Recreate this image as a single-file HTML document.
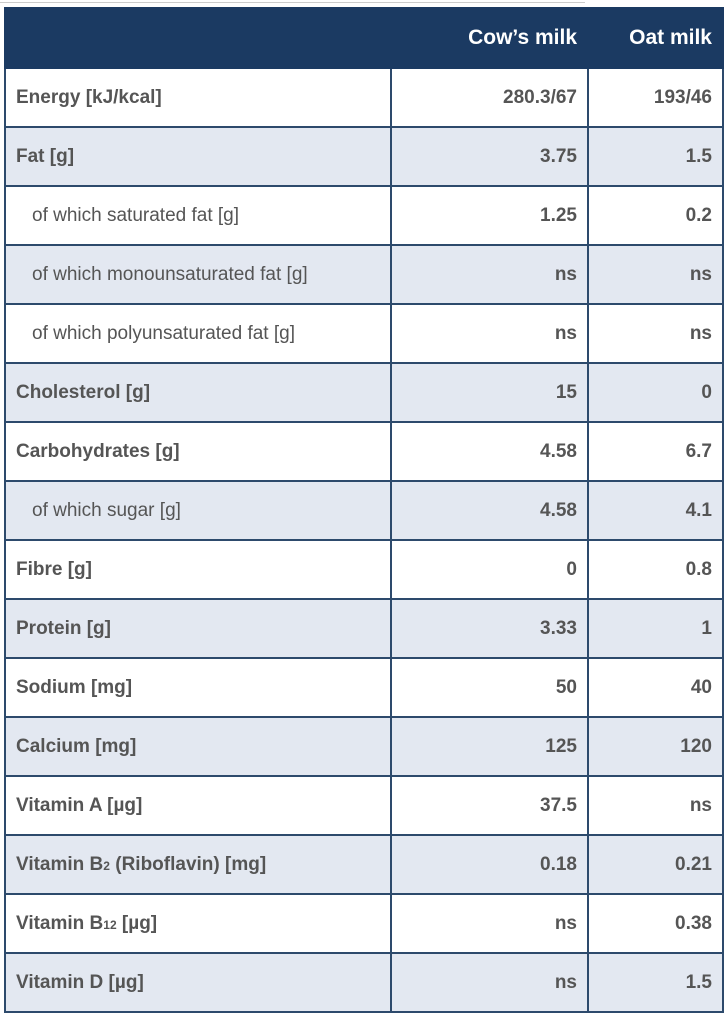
<!DOCTYPE html>
<html><head><meta charset="utf-8"><style>
body{margin:0;width:726px;height:1024px;background:#fff;position:relative;overflow:hidden;font-family:"Liberation Sans",sans-serif}
.topline{position:absolute;left:0;top:2px;width:585px;height:1px;background:#ccc}
.tbl{position:absolute;left:4px;top:7px;width:718px;border-collapse:collapse;table-layout:fixed}
.tbl td,.tbl th{border:2px solid #2d4a6c;padding:0 10px;color:#555;font-size:19px;height:57px}
.tbl th{background:#1b3a62;color:#fff;font-size:21px;height:58px;text-align:right;border-color:#1b3a62}
.tbl td{font-weight:bold}
.tbl td.v{text-align:right}
.tbl tr.alt td{background:#e3e8f1}
.tbl td.sub{font-weight:normal;padding-left:26px}
</style></head><body>
<div class="topline"></div>
<table class="tbl">
<colgroup><col style="width:386px"><col style="width:197px"><col style="width:135px"></colgroup>
<tr><th></th><th>Cow’s milk</th><th>Oat milk</th></tr>
<tr><td>Energy [kJ/kcal]</td><td class="v">280.3/67</td><td class="v">193/46</td></tr>
<tr class="alt"><td>Fat [g]</td><td class="v">3.75</td><td class="v">1.5</td></tr>
<tr><td class="sub">of which saturated fat [g]</td><td class="v">1.25</td><td class="v">0.2</td></tr>
<tr class="alt"><td class="sub">of which monounsaturated fat [g]</td><td class="v">ns</td><td class="v">ns</td></tr>
<tr><td class="sub">of which polyunsaturated fat [g]</td><td class="v">ns</td><td class="v">ns</td></tr>
<tr class="alt"><td>Cholesterol [g]</td><td class="v">15</td><td class="v">0</td></tr>
<tr><td>Carbohydrates [g]</td><td class="v">4.58</td><td class="v">6.7</td></tr>
<tr class="alt"><td class="sub">of which sugar [g]</td><td class="v">4.58</td><td class="v">4.1</td></tr>
<tr><td>Fibre [g]</td><td class="v">0</td><td class="v">0.8</td></tr>
<tr class="alt"><td>Protein [g]</td><td class="v">3.33</td><td class="v">1</td></tr>
<tr><td>Sodium [mg]</td><td class="v">50</td><td class="v">40</td></tr>
<tr class="alt"><td>Calcium [mg]</td><td class="v">125</td><td class="v">120</td></tr>
<tr><td>Vitamin A [µg]</td><td class="v">37.5</td><td class="v">ns</td></tr>
<tr class="alt"><td>Vitamin B<span style="font-size:12px">2</span> (Riboflavin) [mg]</td><td class="v">0.18</td><td class="v">0.21</td></tr>
<tr><td>Vitamin B<span style="font-size:12px">12</span> [µg]</td><td class="v">ns</td><td class="v">0.38</td></tr>
<tr class="alt"><td>Vitamin D [µg]</td><td class="v">ns</td><td class="v">1.5</td></tr>
</table>
</body></html>
